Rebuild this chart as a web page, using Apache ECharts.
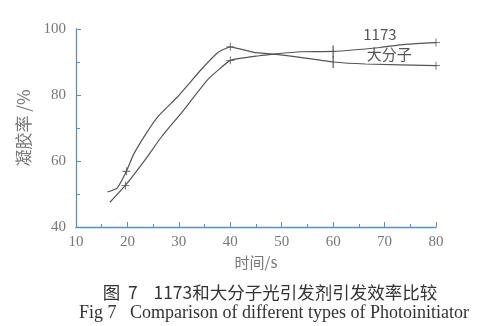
<!DOCTYPE html>
<html><head><meta charset="utf-8">
<script src="https://cdn.jsdelivr.net/npm/echarts@6/dist/echarts.min.js"></script>
<style>html,body{margin:0;padding:0;background:#fff}#c{width:484px;height:326px}</style>
</head><body><div id="c"></div>
<script>
// Data
var xTicks = [10, 20, 30, 40, 50, 60, 70, 80];
var yTicks = [40, 60, 80, 100];
var markedTimes = [20, 40, 60, 80];

var x1173 = [16.6, 19.6, 23.5, 26.7, 30.5, 35.7, 40, 45.6, 48.5, 53.6, 60, 69.2, 74.4, 80];
var y1173 = [47.5, 52.6, 60.5, 67.5, 74.6, 84.8, 90.5, 91.9, 92.4, 93.1, 93.2, 94.4, 95.4, 95.9];

var xMacro = [16.1, 18.0, 19.8, 21.2, 23.5, 26, 29.9, 34.4, 37.6, 40, 44.6, 48.5, 53.6, 60, 66.3, 80];
var yMacro = [50.6, 51.8, 56.9, 62, 68, 73.6, 79.7, 87.8, 92.9, 94.6, 92.9, 92.4, 91.4, 90.0, 89.4, 88.9];

var seriesNames = ['1173', '大分子'];
var labelPos = [[69.1, 98.4], [70.9, 92.2]];

var lineColor = '#555';
var axisColor = '#5b8fbf';
var textColor = '#777';
var serif = '"Liberation Serif","DejaVu Serif",serif';
var cjk = '"Noto Sans CJK SC","Liberation Serif",serif';

var plusPath = 'path://M4.5,0H5.5V4.5H10V5.5H5.5V10H4.5V5.5H0V4.5H4.5Z';
var vbarPath = 'path://M0,0H1V10H0Z';

function build(xs, ys) {
  return xs.map(function (x, i) {
    var m = markedTimes.some(function (t) { return Math.abs(t - x) < 1; });
    var item = { value: [x, ys[i]] };
    if (m) {
      if (Math.abs(x - 60) < 1) { item.symbol = vbarPath; item.symbolSize = [1.2, 12]; }
      else { item.symbol = plusPath; item.symbolSize = 8; }
    } else { item.symbol = 'none'; }
    return item;
  });
}

function mkSeries(name, xs, ys, pos) {
  return {
    name: name, type: 'line', smooth: 0.12, data: build(xs, ys),
    lineStyle: { color: lineColor, width: 1.2 },
    itemStyle: { color: lineColor },
    showAllSymbol: true, z: 3,
    markPoint: {
      symbol: 'circle', symbolSize: 1, itemStyle: { color: 'rgba(0,0,0,0)' },
      label: { show: true, position: 'inside', formatter: name, color: '#555', fontFamily: cjk, fontSize: 15 },
      data: [{ coord: pos }]
    }
  };
}

var chart = echarts.init(document.getElementById('c'));
chart.setOption({
  animation: false,
  backgroundColor: '#fff',
  grid: { left: 76, right: 48, top: 29, bottom: 99 },
  title: [
    { text: '图  7    1173和大分子光引发剂引发效率比较', left: 265, top: 279, textAlign: 'center',
      textStyle: { fontFamily: cjk, fontSize: 17.5, fontWeight: 'normal', color: '#333' } },
    { text: 'Fig 7   Comparison of different types of Photoinitiator', left: 269, top: 299, textAlign: 'center',
      textStyle: { fontFamily: serif, fontSize: 18, fontWeight: 'normal', color: '#333' } }
  ],
  xAxis: {
    type: 'value', min: 10, max: 80, interval: 10,
    name: '时间/s', nameLocation: 'middle', nameGap: 28,
    nameTextStyle: { fontFamily: cjk, fontSize: 15, color: textColor },
    axisLine: { lineStyle: { color: axisColor, width: 1.3 } },
    axisTick: { inside: true, length: 5, lineStyle: { color: axisColor } },
    minorTick: { show: true, splitNumber: 2, length: 3, lineStyle: { color: axisColor } },
    splitLine: { show: false },
    axisLabel: { fontFamily: serif, fontSize: 15, color: textColor, margin: 8,
      formatter: function (v) { return xTicks.indexOf(v) >= 0 ? String(v) : ''; } }
  },
  yAxis: {
    type: 'value', min: 40, max: 100, interval: 20,
    name: '凝胶率 /%', nameLocation: 'middle', nameGap: 44, nameRotate: 90,
    nameTextStyle: { fontFamily: cjk, fontSize: 17, color: textColor },
    axisLine: { show: true, lineStyle: { color: axisColor, width: 1.3 } },
    axisTick: { show: true, inside: true, length: 5, lineStyle: { color: axisColor } },
    minorTick: { show: true, splitNumber: 2, length: 4, lineStyle: { color: axisColor } },
    splitLine: { show: false },
    axisLabel: { fontFamily: serif, fontSize: 15, color: textColor, margin: 10,
      formatter: function (v) { return yTicks.indexOf(v) >= 0 ? String(v) : ''; } }
  },
  series: [
    mkSeries(seriesNames[0], x1173, y1173, labelPos[0]),
    mkSeries(seriesNames[1], xMacro, yMacro, labelPos[1])
  ]
});
</script></body></html>
